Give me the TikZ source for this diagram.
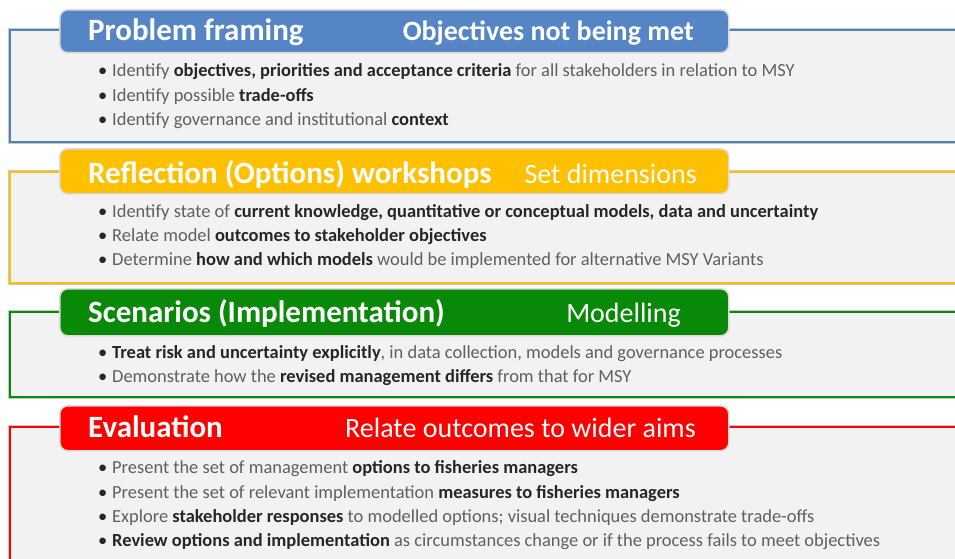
\documentclass[tikz,border=0pt]{standalone}
\usepackage{fontspec}
\setmainfont{Carlito}
\definecolor{boxfill}{HTML}{F2F2F2}
\definecolor{cblue}{HTML}{5585C5}
\definecolor{lblue}{HTML}{4F81BD}
\definecolor{cyellow}{HTML}{FFC000}
\definecolor{cgreen}{HTML}{088A08}
\definecolor{cred}{HTML}{FF0000}
\definecolor{bodygray}{HTML}{5F5F5F}
\definecolor{bodydark}{HTML}{262626}
\newcommand\bt[1]{{\bfseries\color{bodydark}#1}}
\tikzset{
  outerbox/.style={fill=boxfill, draw=#1, line width=1.6pt,
    preaction={draw=black!22, line width=3.6pt}},
  tabbox/.style={fill=#1, draw=black!14, line width=1.6pt, rounded corners=8pt,
    anchor=north west, inner sep=0pt},
  lefttitle/.style={anchor=base west, inner sep=0pt, text=white, font=\fontsize{31}{34}\selectfont\bfseries},
  righttitle/.style={anchor=base east, inner sep=0pt, text=white, font=\fontsize{28}{32}\selectfont},
  bodyline/.style={anchor=base west, inner sep=0pt, text=bodygray, font=\fontsize{18.45}{22}\selectfont},
}
\newcommand\bl{\makebox[14pt][l]{\color{bodydark}\textbullet}}
\begin{document}
\begin{tikzpicture}[x=1pt,y=-1pt]
\useasboundingbox (0,0) rectangle (955,559);
\clip (0,0) rectangle (955,559);
% Panel 1
\draw[outerbox=lblue] (10,30) rectangle (975,142);
\node[tabbox=cblue, minimum width=669pt, minimum height=43pt] (tab1) at (59,9) {};
\node[lefttitle] (t1a) at (88,41) {Problem framing};
\node[righttitle, font=\fontsize{28}{32}\selectfont\bfseries] (t1b) at (694,41) {Objectives not being met};
\node[bodyline] (b1a) at (98,77) {\bl Identify \bt{objectives, priorities and acceptance criteria} for all stakeholders in relation to MSY};
\node[bodyline] (b1b) at (98,101.5) {\bl Identify possible \bt{trade-offs}};
\node[bodyline] (b1c) at (98,125.5) {\bl Identify governance and institutional \bt{context}};
% Panel 2
\draw[outerbox=cyellow] (10,172) rectangle (975,283);
\node[tabbox=cyellow, minimum width=669pt, minimum height=45pt] (tab2) at (59,148) {};
\node[lefttitle] (t2a) at (88,183.5) {Reflection (Options) workshops};
\node[righttitle] (t2b) at (697,183.5) {Set dimensions};
\node[bodyline] (b2a) at (98,217.5) {\bl Identify state of \bt{current knowledge, quantitative or conceptual models, data and uncertainty}};
\node[bodyline] (b2b) at (98,241.5) {\bl Relate model \bt{outcomes to stakeholder objectives}};
\node[bodyline] (b2c) at (98,265.5) {\bl Determine \bt{how and which models} would be implemented for alternative MSY Variants};
% Panel 3
\draw[outerbox=cgreen] (10,312) rectangle (975,397);
\node[tabbox=cgreen, minimum width=669pt, minimum height=47pt] (tab3) at (59,288) {};
\node[lefttitle] (t3a) at (88,322.5) {Scenarios (Implementation)};
\node[righttitle] (t3b) at (681,322.5) {Modelling};
\node[bodyline] (b3a) at (98,358.5) {\bl \bt{Treat risk and uncertainty explicitly}, in data collection, models and governance processes};
\node[bodyline] (b3b) at (98,382.5) {\bl Demonstrate how the \bt{revised management differs} from that for MSY};
% Panel 4
\draw[outerbox=cred] (10,427) rectangle (975,580);
\node[tabbox=cred, minimum width=669pt, minimum height=45pt] (tab4) at (59,405) {};
\node[lefttitle] (t4a) at (88,437) {Evaluation};
\node[righttitle] (t4b) at (696,437) {Relate outcomes to wider aims};
\node[bodyline] (b4a) at (98,473.5) {\bl Present the set of management \bt{options to fisheries managers}};
\node[bodyline] (b4b) at (98,498) {\bl Present the set of relevant implementation \bt{measures to fisheries managers}};
\node[bodyline] (b4c) at (98,522) {\bl Explore \bt{stakeholder responses} to modelled options; visual techniques demonstrate trade-offs};
\node[bodyline] (b4d) at (98,546) {\bl \bt{Review options and implementation} as circumstances change or if the process fails to meet objectives};
\end{tikzpicture}
\end{document}
